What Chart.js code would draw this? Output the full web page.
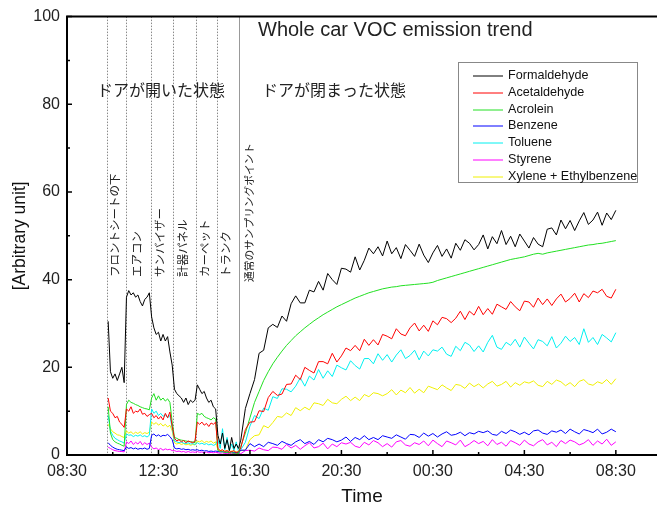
<!DOCTYPE html>
<html>
<head>
<meta charset="utf-8">
<title>Whole car VOC emission trend</title>
<script src="https://cdn.jsdelivr.net/npm/chart.js@4.4.1/dist/chart.umd.min.js"></script>
<style>
  html, body { margin: 0; padding: 0; background: #fff; }
  #wrap { width: 657px; height: 513px; }
</style>
</head>
<body>
<div id="wrap"><canvas id="vocChart" width="657" height="513"></canvas></div>
<script>
// hours after 08:30 (day 1); 0.1 h steps while the doors are open, 0.2 h after closing
const hours = [
  1.8, 1.9, 2.0, 2.1, 2.2, 2.3, 2.4, 2.5,
  2.6, 2.7, 2.8, 2.9, 3.0, 3.1, 3.2, 3.3, 3.4, 3.5, 3.6,
  3.7, 3.8, 3.9, 4.0, 4.1, 4.2, 4.3, 4.4, 4.5, 4.6,
  4.7, 4.8, 4.9, 5.0, 5.1, 5.2, 5.3, 5.4, 5.5, 5.6,
  5.7, 5.8, 5.9, 6.0, 6.1, 6.2, 6.3, 6.4, 6.5,
  6.6, 6.7, 6.8, 6.9, 7.0, 7.1, 7.2, 7.3, 7.4, 7.5,
  7.6, 7.8, 8.0, 8.2, 8.4, 8.6, 8.8, 9.0, 9.2, 9.4,
  9.6, 9.8, 10.0, 10.2, 10.4, 10.6, 10.8, 11.0, 11.2, 11.4,
  11.6, 11.8, 12.0, 12.2, 12.4, 12.6, 12.8, 13.0, 13.2, 13.4,
  13.6, 13.8, 14.0, 14.2, 14.4, 14.6, 14.8, 15.0, 15.2, 15.4,
  15.6, 15.8, 16.0, 16.2, 16.4, 16.6, 16.8, 17.0, 17.2, 17.4,
  17.6, 17.8, 18.0, 18.2, 18.4, 18.6, 18.8, 19.0, 19.2, 19.4,
  19.6, 19.8, 20.0, 20.2, 20.4, 20.6, 20.8, 21.0, 21.2, 21.4,
  21.6, 21.8, 22.0, 22.2, 22.4, 22.6, 22.8, 23.0, 23.2, 23.4,
  23.6, 23.8, 24.0
];

const formaldehyde = [
  30.5, 19, 17.5, 18.5, 17, 18.5, 20, 16.5,
  36, 37.5, 36.5, 37, 36, 36.5, 35, 34, 35.5, 36, 37,
  31.5, 29, 27.5, 28, 26, 27.5, 26, 27, 23.5, 20.5,
  15, 14, 13.5, 13, 12, 13, 11.5, 12.5, 12, 12.5,
  16, 15, 14, 14.5, 13, 12, 12.5, 11, 10.5,
  4.5, 2.5, 5, 1.5, 3.5, 1, 4, 1.5, 2.5, 1.5,
  3.4, 10.6, 14, 17.2, 23.2, 23.9, 29, 29.8, 29.1, 31.7,
  30.5, 34.5, 36.3, 34.7, 34.7, 37.6, 37.2, 39.6, 37.6, 41.4,
  40, 38.9, 42.6, 42.4, 41.7, 45.2, 42.2, 44.4, 47.2, 45.9,
  47.5, 45.4, 48.8, 45.9, 47.3, 44.8, 48, 46.7, 45.3, 48.1,
  45.6, 43.9, 46.1, 47.8, 45.3, 47, 44.9, 48.3, 46.7, 49.1,
  48.3, 46.8, 48, 50.2, 47, 49.8, 48.2, 51.2, 48, 49.9,
  47.5, 50.4, 48.8, 47.2, 49.6, 48.1, 47.5, 51.5, 51.8, 50.2,
  53.6, 51.6, 53.5, 51.2, 53.4, 55.3, 52.6, 53.6, 55.4, 52.4,
  55.2, 53.7, 55.8
];

const acetaldehyde = [
  13, 10, 9.5, 8.5, 8.8, 7.5, 7, 6.3,
  10.5, 10, 11, 9.5, 10, 9.8, 10.5, 9.3, 9.5, 8.8, 9.2,
  9.5, 8.5, 9, 8.2, 8.8, 8, 9.5, 8.5, 9.8, 6.5,
  3.8, 3.2, 3.5, 3, 3.3, 2.8, 3.2, 3, 2.8, 3.2,
  7.5, 7, 7.5, 6.8, 7.2, 6.5, 7.3, 7, 7.5,
  1.5, 1, 1.2, 0.8, 1, 0.6, 0.8, 1, 0.5, 0.8,
  1.6, 5.8, 7.5, 7.6, 10.1, 9.9, 13.1, 14.5, 13.6, 13.9,
  16.1, 16.2, 18.2, 17.2, 20, 19.3, 18.7, 21.3, 21.3, 20.8,
  23.2, 21.2, 22.6, 24.4, 23.8, 25, 23.8, 26.4, 25, 26.3,
  25.1, 27.5, 27.1, 26.5, 28.8, 27.6, 27.2, 29, 30.1, 28.3,
  29.6, 28.2, 30.6, 29.7, 31.4, 31.1, 30.2, 31.2, 32.8, 30.9,
  32.8, 31.9, 33.9, 32, 33.4, 32.1, 34.4, 33.8, 33.2, 35,
  33.8, 32.9, 35.1, 34.9, 33.7, 35.8, 34.3, 35.6, 34.1, 35.6,
  36.7, 34.9, 35.7, 36.9, 34.9, 36.8, 35.9, 37.4, 37, 37.8,
  36.2, 35.8, 37.8
];

const acrolein = [
  11, 5, 3.5, 3, 2.7, 2.5, 2.2, 2,
  11.5, 12.5, 12, 11.8, 11.5, 11.3, 11, 10.8, 10.6, 10.5, 10.3,
  13, 14, 12.5, 13.5, 12.5, 13, 12.3, 12.8, 12, 7.5,
  4, 3.8, 3.5, 3.4, 3.3, 3.2, 3.1, 3, 3, 2.8,
  9.5, 9.2, 9.5, 8.8, 8.5, 8.3, 8, 8.5, 8.2,
  1, 0.8, 0.7, 0.6, 0.6, 0.5, 0.5, 0.4, 0.4, 0.3,
  2, 5, 8.5, 12, 14.5, 17, 19, 20.8, 22.3, 23.7,
  25, 26.1, 27.2, 28.1, 29, 29.8, 30.6, 31.3, 32, 32.6,
  33.2, 33.8, 34.3, 34.8, 35.3, 35.8, 36.2, 36.6, 37, 37.3,
  37.6, 37.9, 38.1, 38.3, 38.4, 38.6, 38.7, 38.8, 38.9, 39,
  39.1, 39.2, 39.4, 39.8, 40.1, 40.4, 40.7, 41, 41.3, 41.6,
  41.9, 42.2, 42.5, 42.8, 43.1, 43.4, 43.7, 44, 44.3, 44.6,
  44.8, 45, 45.2, 45.5, 45.8, 46, 45.8, 46.1, 46.3, 46.5,
  46.7, 46.9, 47.1, 47.3, 47.5, 47.7, 47.9, 48, 48.2, 48.3,
  48.5, 48.7, 48.9
];

const benzene = [
  2.8, 2.2, 1.8, 1.5, 1.3, 1.2, 1.1, 1,
  1.8, 1.5, 1.7, 1.4, 1.6, 1.3, 1.5, 1.4, 1.6, 1.3, 1.5,
  4.5, 4.8, 4.3, 4.6, 4.2, 4.5, 4.4, 4.7, 4.2, 3.5,
  1.6, 1.4, 1.5, 1.3, 1.4, 1.2, 1.3, 1.1, 1.2, 1.1,
  1.2, 1, 1.1, 0.9, 1, 0.8, 0.9, 0.8, 0.9,
  0.8, 0.7, 0.8, 0.6, 0.7, 0.6, 0.7, 0.5, 0.6, 0.5,
  1.1, 1.1, 2.6, 1.9, 2.5, 1.9, 2.9, 2.6, 2.2, 3.1,
  2.6, 2.2, 3, 3.5, 2.6, 3.1, 2.4, 3.5, 3, 3.8,
  3.5, 3, 3.4, 4.1, 3.1, 4, 3.5, 4.4, 3.5, 4,
  3.5, 4.4, 4.1, 3.8, 4.6, 4.1, 3.6, 4.7, 4.6, 4,
  5, 4.3, 4.9, 4.1, 4.8, 5.3, 4.5, 4.7, 5.2, 4.4,
  5.1, 4.8, 5.4, 5.1, 5.5, 4.7, 4.5, 5.4, 4.9, 5.7,
  5.3, 4.7, 5.2, 4.6, 5.5, 5.7, 5, 4.7, 5.5, 5.2,
  5.7, 4.9, 5.9, 5.3, 4.8, 5.8, 5.5, 5.1, 5.9, 4.8,
  5.2, 5.9, 5.3
];

const toluene = [
  9, 5.5, 4.5, 3.8, 3.5, 3.2, 3, 2.7,
  4.8, 4.5, 4.6, 4.2, 4.5, 4.3, 4.6, 4.2, 4.4, 4.1, 4.5,
  10.5, 9.5, 10, 9, 9.5, 8.8, 9.2, 8.5, 9, 6,
  3.2, 3, 2.8, 3, 2.7, 2.6, 2.8, 2.5, 2.6, 2.4,
  2.8, 2.5, 2.7, 2.4, 2.6, 2.3, 2.5, 2.2, 2.4,
  3.5, 1.5, 6, 1.2, 4, 1, 2.5, 1, 3, 0.8,
  1.2, 2.9, 6.6, 9, 8.3, 10.7, 10.2, 13.3, 12.9, 15.1,
  15, 14.4, 15.7, 17.6, 15.7, 18, 17.1, 19.5, 17.5, 19.2,
  17.9, 20.5, 19.9, 19.4, 21.5, 20.4, 19.6, 22, 22, 20.8,
  23.1, 21.6, 22.9, 21.2, 22.8, 24, 22, 22.7, 23.9, 21.7,
  23.7, 22.6, 24, 23.7, 24.6, 23, 22.5, 24.8, 23.8, 25.7,
  25.1, 23.6, 24.9, 23.5, 25.7, 27.3, 24.6, 24.1, 25.7, 25,
  26.4, 24.6, 26.9, 25.5, 24.2, 26.3, 25.9, 24.9, 27, 24.4,
  25.5, 27.1, 25.9, 26.8, 25.2, 28.8, 25.7, 26.8, 25.2, 27.5,
  26.7, 25.8, 27.9
];

const styrene = [
  1.8, 1.5, 1.2, 1, 0.9, 0.8, 0.8, 0.7,
  3, 2.6, 3.2, 2.4, 2.9, 2.5, 3.1, 2.3, 2.8, 2.4, 2.7,
  1.8, 1.4, 1.6, 1.2, 1.5, 1.1, 1.4, 1.2, 1.3, 1,
  1, 0.8, 0.9, 0.7, 0.8, 0.6, 0.8, 0.6, 0.7, 0.6,
  0.8, 0.6, 0.7, 0.5, 0.7, 0.5, 0.6, 0.5, 0.6,
  0.5, 0.4, 0.5, 0.3, 0.4, 0.3, 0.4, 0.3, 0.4, 0.3,
  0.3, 1, 1.1, 0.9, 1.6, 1.2, 1, 1.8, 1.7, 1.3,
  2.4, 1.6, 2.2, 1.3, 2.1, 2.8, 1.6, 1.9, 2.7, 1.4,
  2.5, 1.9, 2.8, 2.5, 2.9, 2, 1.7, 2.9, 2.3, 3.3,
  2.8, 1.9, 2.6, 1.8, 3, 3.3, 2.3, 2, 2.8, 2.4,
  3.2, 2.1, 3.4, 2.6, 1.9, 3.2, 2.8, 2.3, 3.4, 1.9,
  2.5, 3.3, 2.6, 3.1, 2.1, 3.5, 2.4, 2.9, 2, 3.3,
  2.8, 2.2, 3.4, 2.5, 2.1, 3, 3.5, 2.3, 2.9, 1.9,
  3.3, 2.6, 3.4, 3, 2.3, 2.7, 3.5, 2.2, 3.2, 2.5,
  3.6, 2.2, 3
];

const xylene = [
  7, 6, 5.3, 5, 4.6, 4.5, 4.2, 4,
  5.5, 5, 5.3, 4.8, 5.2, 4.9, 5.3, 4.8, 5.1, 4.9, 5.2,
  7.5, 7, 7.4, 6.8, 7.2, 6.6, 7, 6.4, 6.8, 5.5,
  2.8, 2.5, 2.7, 2.4, 2.6, 2.3, 2.5, 2.2, 2.4, 2.3,
  3.2, 3, 3.3, 2.8, 3.1, 2.9, 3.2, 2.7, 3,
  1.2, 1, 1.1, 0.9, 1, 0.8, 0.9, 0.7, 0.8, 0.7,
  1, 1.1, 3.5, 4.4, 4.6, 6.7, 6.2, 7.4, 8.8, 8.6,
  9.6, 9, 10.8, 10.1, 10.9, 10.3, 11.9, 11.7, 11.3, 12.7,
  11.9, 11.7, 12.7, 13.4, 12.4, 13.2, 12.4, 13.8, 13.3, 14.2,
  14, 13.5, 14, 14.9, 13.7, 14.8, 14.2, 15.4, 14.1, 15,
  14.2, 15.7, 15.3, 14.9, 16, 15.3, 14.7, 16.1, 15.9, 15.2,
  16.4, 15.6, 16.2, 15.3, 16.2, 16.8, 15.7, 16.1, 16.8, 15.5,
  16.5, 15.9, 16.7, 16.4, 16.9, 15.9, 15.6, 16.8, 16.1, 17.1,
  16.7, 15.8, 16.5, 15.6, 16.8, 17.2, 16.2, 15.9, 16.7, 16.3,
  17.2, 16.1, 17.4
];

const seriesNames = ['Formaldehyde', 'Acetaldehyde', 'Acrolein', 'Benzene', 'Toluene', 'Styrene', 'Xylene + Ethylbenzene'];
const seriesColors = ['#000000', '#ff0000', '#22e022', '#0000ff', '#00f0f0', '#ff00ff', '#f0f000'];
const seriesValues = [formaldehyde, acetaldehyde, acrolein, benzene, toluene, styrene, xylene];

const tickHours = [0, 4, 8, 12, 16, 20, 24];
const tickLabels = ['08:30', '12:30', '16:30', '20:30', '00:30', '04:30', '08:30'];

// sampling locations while the doors were open, then the normal sampling point
const zoneStarts = [1.76, 2.58, 3.66, 4.62, 5.64, 6.57];
const zoneNames = ['フロントシートの下', 'エアコン', 'サンバイザー', '計器パネル', 'カーペット', 'トランク'];
const closedStart = 7.52;
const closedName = '通常のサンプリングポイント';

const LATIN = '"Liberation Sans", Arial, sans-serif';
const CJK = '"Noto Sans CJK JP", sans-serif';

const decorations = {
  id: 'decorations',
  beforeDatasetsDraw(chart) {
    const { ctx, chartArea: a, scales: { x } } = chart;
    ctx.save();
    ctx.lineWidth = 1;
    ctx.strokeStyle = '#8a8a8a';
    ctx.setLineDash([1.5, 1.5]);
    zoneStarts.forEach(h => {
      const px = Math.round(x.getPixelForValue(h)) + 0.5;
      ctx.beginPath(); ctx.moveTo(px, a.top); ctx.lineTo(px, a.bottom); ctx.stroke();
    });
    ctx.setLineDash([]);
    ctx.strokeStyle = '#999';
    const sx = Math.round(x.getPixelForValue(closedStart)) + 0.5;
    ctx.beginPath(); ctx.moveTo(sx, a.top); ctx.lineTo(sx, a.bottom); ctx.stroke();

    // vertical location labels
    ctx.fillStyle = '#222';
    ctx.font = '11.5px ' + CJK;
    ctx.textAlign = 'left';
    ctx.textBaseline = 'middle';
    const ends = zoneStarts.concat([closedStart]);
    zoneNames.forEach((name, i) => {
      const cx = (x.getPixelForValue(ends[i]) + x.getPixelForValue(ends[i + 1])) / 2 - 2;
      ctx.save(); ctx.translate(cx, 277); ctx.rotate(-Math.PI / 2); ctx.fillText(name, 0, 0); ctx.restore();
    });
    ctx.font = '10.7px ' + CJK;
    ctx.save(); ctx.translate(sx + 9, 282); ctx.rotate(-Math.PI / 2); ctx.fillText(closedName, 0, 0); ctx.restore();

    // title and door states
    ctx.font = '20px ' + LATIN;
    ctx.fillText('Whole car VOC emission trend', 258, 30);
    ctx.font = '16px ' + CJK;
    ctx.fillText('ドアが開いた状態', 97, 90);
    ctx.fillText('ドアが閉まった状態', 262, 90);
    ctx.restore();
  },
  afterDraw(chart) {
    const { ctx, chartArea: a, scales: { x, y } } = chart;
    ctx.save();
    ctx.strokeStyle = '#000';
    ctx.lineWidth = 2;
    ctx.beginPath();
    ctx.moveTo(a.right, a.top); ctx.lineTo(a.left, a.top);
    ctx.lineTo(a.left, a.bottom); ctx.lineTo(a.right, a.bottom);
    ctx.stroke();
    ctx.lineWidth = 1.5;
    ctx.beginPath();
    for (let h = 0; h <= x.max; h += 2) {
      const px = x.getPixelForValue(h);
      ctx.moveTo(px, a.bottom); ctx.lineTo(px, a.bottom - (h % 4 === 0 ? 5 : 3));
    }
    for (let v = 0; v <= 100; v += 10) {
      const py = y.getPixelForValue(v);
      ctx.moveTo(a.left, py); ctx.lineTo(a.left + (v % 20 === 0 ? 5 : 3), py);
    }
    ctx.stroke();

    // legend box
    ctx.lineWidth = 1;
    ctx.strokeStyle = '#888';
    ctx.strokeRect(458.5, 62.5, 179, 120);
    ctx.font = '12.6px ' + LATIN;
    ctx.textAlign = 'left';
    ctx.textBaseline = 'middle';
    seriesNames.forEach((name, i) => {
      const ly = Math.round(76 + i * 16.8);
      ctx.strokeStyle = seriesColors[i];
      ctx.beginPath(); ctx.moveTo(473, ly); ctx.lineTo(503, ly); ctx.stroke();
      ctx.fillStyle = '#111';
      ctx.fillText(name, 508, ly);
    });
    ctx.restore();
  }
};

new Chart(document.getElementById('vocChart'), {
  type: 'line',
  data: {
    datasets: seriesNames.map((name, i) => ({
      label: name,
      data: hours.map((h, j) => ({ x: h, y: seriesValues[i][j] })),
      borderColor: seriesColors[i],
      borderWidth: 1,
      pointRadius: 0,
      tension: 0,
      fill: false
    }))
  },
  options: {
    responsive: false,
    animation: false,
    devicePixelRatio: 1,
    layout: { padding: { top: 13, right: 0, bottom: 0, left: 0 } },
    plugins: { legend: { display: false }, tooltip: { enabled: false } },
    scales: {
      x: {
        type: 'linear',
        min: 0,
        max: 25.8,
        afterBuildTicks(scale) { scale.ticks = tickHours.map(v => ({ value: v })); },
        afterFit(scale) { scale.height = 58; },
        grid: { display: false, drawTicks: false },
        border: { display: false },
        ticks: {
          padding: 7,
          maxRotation: 0,
          color: '#222',
          font: { family: LATIN, size: 16 },
          callback: v => tickLabels[tickHours.indexOf(v)] || ''
        },
        title: {
          display: true,
          text: 'Time',
          color: '#111',
          font: { family: LATIN, size: 19 },
          padding: { top: 0, bottom: 5 }
        }
      },
      y: {
        min: 0,
        max: 100,
        afterFit(scale) { scale.width = 67; },
        grid: { display: false, drawTicks: false },
        border: { display: false },
        ticks: {
          stepSize: 20,
          padding: 7,
          color: '#222',
          font: { family: LATIN, size: 16 }
        },
        title: {
          display: true,
          text: '[Arbitrary unit]',
          color: '#111',
          font: { family: LATIN, size: 17.5 },
          padding: { top: 10, bottom: 0 }
        }
      }
    }
  },
  plugins: [decorations]
});
</script>
</body>
</html>
